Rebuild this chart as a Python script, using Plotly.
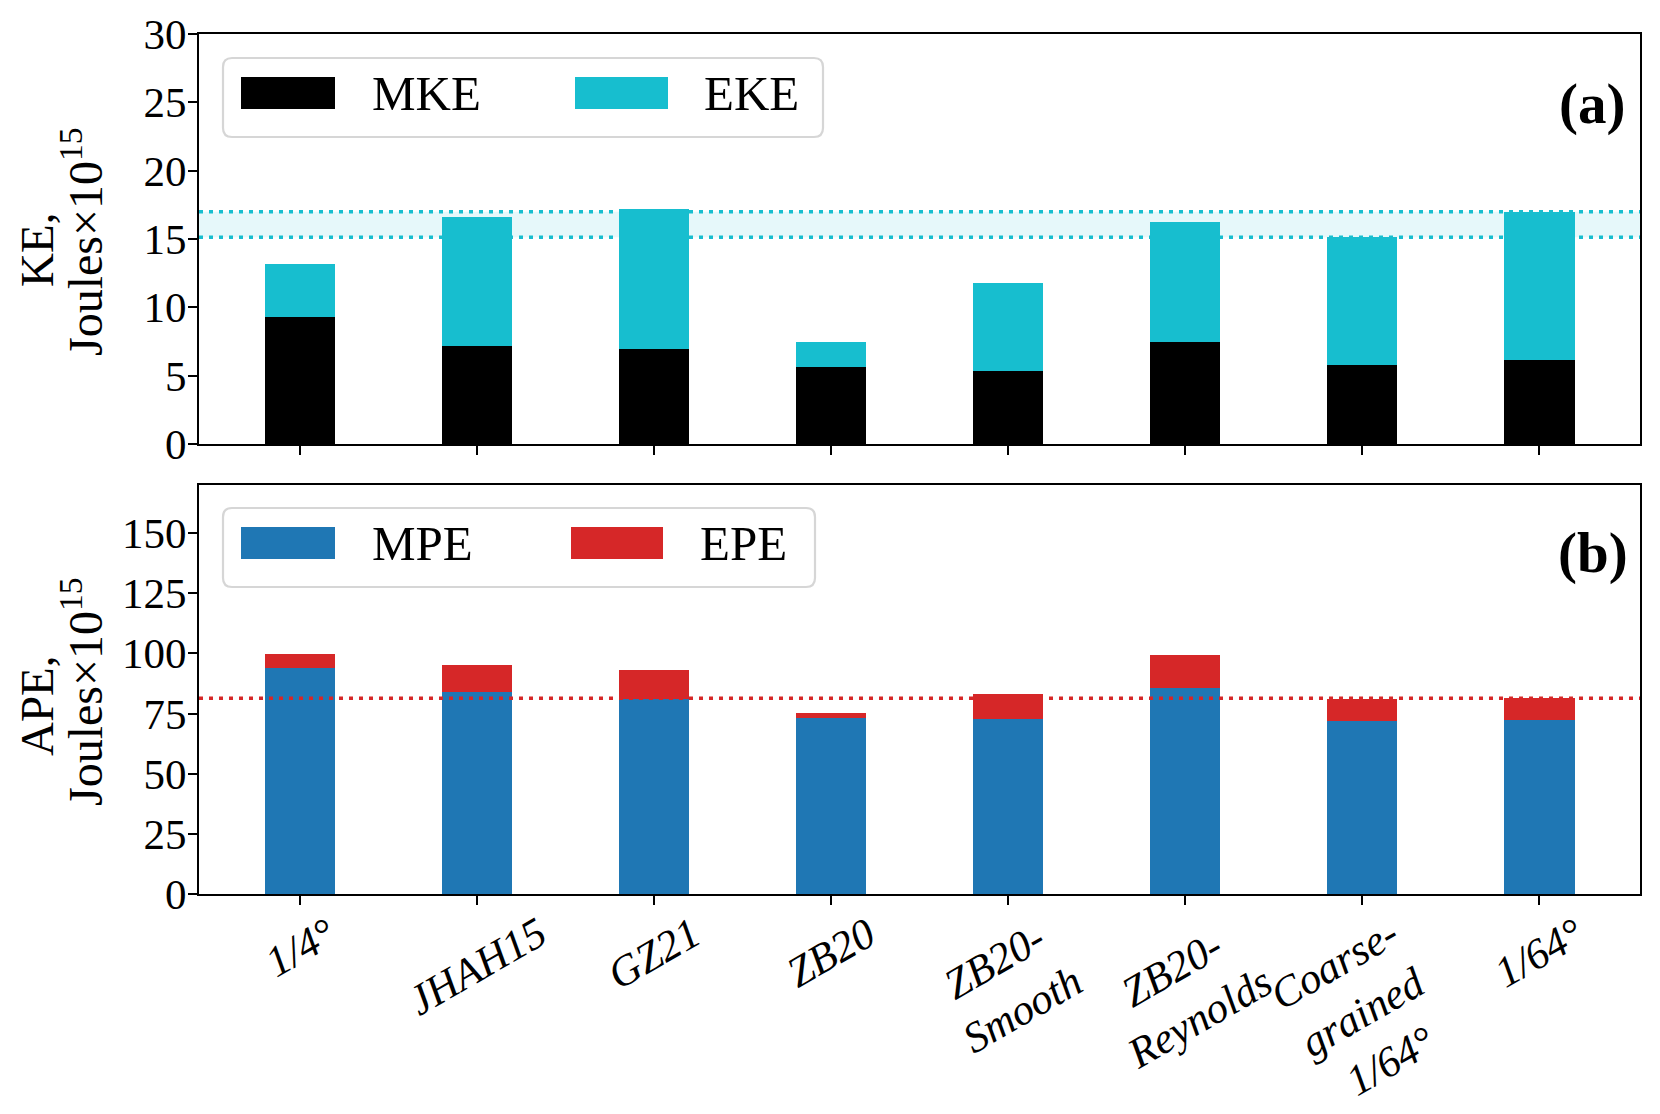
import plotly.graph_objects as go

# ---------------- data ----------------
categories = ["1/4°", "JHAH15", "GZ21", "ZB20", "ZB20-<br>Smooth",
              "ZB20-<br>Reynolds", "Coarse-<br>grained<br>1/64°", "1/64°"]
mke = [9.31, 7.15, 6.95, 5.66, 5.36, 7.46, 5.78, 6.12]
eke = [3.84, 9.45, 10.22, 1.78, 6.44, 8.80, 9.34, 10.88]
mpe = [94.1, 83.85, 80.94, 73.06, 72.77, 85.64, 72.07, 72.2]
epe = [5.65, 11.2, 12.03, 2.07, 10.5, 13.69, 8.87, 9.16]
ke_ticks = [0, 5, 10, 15, 20, 25, 30]
ape_ticks = [0, 25, 50, 75, 100, 125, 150]

ke_total = [a + b for a, b in zip(mke, eke)]
ape_total = [a + b for a, b in zip(mpe, epe)]

# ---------------- layout helpers ----------------
W, H = 1660, 1114
L, T, B = 199, 34, 220
R = 20
pw, ph = W - L - R, H - T - B


def px(xp):
    return (xp - L) / pw


def py(yp):
    return (H - B - yp) / ph


FONT = "Liberation Serif"
CYAN = "#17becf"
BLUE = "#1f77b4"
RED = "#d62728"

x = list(range(len(categories)))

fig = go.Figure()
fig.add_trace(go.Bar(x=x, y=mke, width=0.4, marker=dict(color="black", line=dict(width=0)),
                     xaxis="x", yaxis="y", name="MKE", showlegend=False))
fig.add_trace(go.Bar(x=x, y=eke, width=0.4, marker=dict(color=CYAN, line=dict(width=0)),
                     xaxis="x", yaxis="y", name="EKE", showlegend=False))
fig.add_trace(go.Bar(x=x, y=mpe, width=0.4, marker=dict(color=BLUE, line=dict(width=0)),
                     xaxis="x2", yaxis="y2", name="MPE", showlegend=False))
fig.add_trace(go.Bar(x=x, y=epe, width=0.4, marker=dict(color=RED, line=dict(width=0)),
                     xaxis="x2", yaxis="y2", name="EPE", showlegend=False))

axis_common = dict(showline=True, mirror=True, linecolor="black", linewidth=2,
                   ticks="outside", ticklen=9, tickwidth=1.5, tickcolor="black",
                   showgrid=False, zeroline=False,
                   tickfont=dict(family=FONT, size=43, color="black"))

fig.update_layout(
    width=W, height=H,
    margin=dict(l=L, r=R, t=T, b=B),
    paper_bgcolor="white", plot_bgcolor="white",
    barmode="stack", bargap=0,
    xaxis=dict(domain=[0, 1], anchor="y", range=[-0.57, 7.57], tickvals=x,
               showticklabels=False, **axis_common),
    xaxis2=dict(domain=[0, 1], anchor="y2", range=[-0.57, 7.57], tickvals=x,
                showticklabels=False, matches="x", **axis_common),
    yaxis=dict(domain=[py(444), 1], anchor="x", range=[0, 30], tickvals=ke_ticks,
               ticklabelstandoff=-7, **axis_common),
    yaxis2=dict(domain=[0, py(485)], anchor="x2", range=[0, 170], tickvals=ape_ticks,
                ticklabelstandoff=-7, **axis_common),
)

dotted = "4px,6px"
shapes = [
    dict(type="rect", xref="x domain", yref="y", x0=0, x1=1,
         y0=ke_total[6], y1=ke_total[7], fillcolor="rgba(23,190,207,0.11)",
         line=dict(width=0), layer="below"),
    dict(type="line", xref="x domain", yref="y", x0=0, x1=1,
         y0=ke_total[7], y1=ke_total[7], line=dict(color=CYAN, width=3.5, dash=dotted),
         layer="below"),
    dict(type="line", xref="x domain", yref="y", x0=0, x1=1,
         y0=ke_total[6], y1=ke_total[6], line=dict(color=CYAN, width=3.5, dash=dotted),
         layer="below"),
    dict(type="line", xref="x2 domain", yref="y2", x0=0, x1=1,
         y0=ape_total[7], y1=ape_total[7], line=dict(color=RED, width=3.5, dash=dotted),
         layer="above"),
]


def rounded_box(x0, y0, x1, y1, r=9):
    X0, X1 = px(x0), px(x1)
    Y0, Y1 = py(y0), py(y1)
    rx, ry = r / pw, r / ph
    return (f"M{X0+rx},{Y0} L{X1-rx},{Y0} Q{X1},{Y0} {X1},{Y0-ry} "
            f"L{X1},{Y1+ry} Q{X1},{Y1} {X1-rx},{Y1} L{X0+rx},{Y1} "
            f"Q{X0},{Y1} {X0},{Y1+ry} L{X0},{Y0-ry} Q{X0},{Y0} {X0+rx},{Y0} Z")


annotations = []
legend_specs = [
    ((223, 58, 823, 137), 93, [(241, 335, "black", "MKE", 370), (575, 668, CYAN, "EKE", 702)]),
    ((223, 508, 815, 587), 543, [(241, 335, BLUE, "MPE", 370), (571, 663, RED, "EPE", 698)]),
]
for (bx0, by0, bx1, by1), cy, items in legend_specs:
    shapes.append(dict(type="path", xref="paper", yref="paper",
                       path=rounded_box(bx0, by0, bx1, by1),
                       fillcolor="rgba(255,255,255,0.8)",
                       line=dict(color="#d6d6d6", width=2.2), layer="above"))
    for p0, p1, col, lab, tx in items:
        shapes.append(dict(type="rect", xref="paper", yref="paper",
                           x0=px(p0), x1=px(p1), y0=py(cy + 16), y1=py(cy - 16),
                           fillcolor=col, line=dict(width=0), layer="above"))
        annotations.append(dict(xref="paper", yref="paper", x=px(tx), y=py(cy),
                                xanchor="left", yanchor="middle", text=lab, showarrow=False,
                                font=dict(family=FONT, size=49, color="black")))

# panel tags
annotations.append(dict(xref="paper", yref="paper", x=px(1627), y=py(104), xanchor="right",
                        yanchor="middle", text="<b>(a)</b>", showarrow=False,
                        font=dict(family=FONT, size=57, color="black")))
annotations.append(dict(xref="paper", yref="paper", x=px(1630), y=py(553), xanchor="right",
                        yanchor="middle", text="<b>(b)</b>", showarrow=False,
                        font=dict(family=FONT, size=57, color="black")))

# y-axis titles (two lines, each its own rotated text for tighter spacing)
ytitles = [("KE,", 250, 242), ("APE,", 706, 692)]
for first, yc1, yc2 in ytitles:
    annotations.append(dict(xref="paper", yref="paper", x=px(37), y=py(yc1), xanchor="center",
                            yanchor="middle", textangle=-90, showarrow=False,
                            text=first, font=dict(family=FONT, size=47, color="black")))
    annotations.append(dict(xref="paper", yref="paper", x=px(82), y=py(yc2), xanchor="center",
                            yanchor="middle", textangle=-90, showarrow=False,
                            text="Joules×10<sup>15</sup>",
                            font=dict(family=FONT, size=48, color="black")))

# x tick labels (rotated, centred under each tick like matplotlib)
for xi, lab in zip(x, categories):
    annotations.append(dict(xref="x2", yref="paper", x=xi, y=0, yshift=-12,
                            xanchor="center", yanchor="top", textangle=-30,
                            showarrow=False, align="center", text=f"<i>{lab}</i>",
                            font=dict(family=FONT, size=43, color="black")))

fig.update_layout(shapes=shapes, annotations=annotations)

fig.write_html("out.html", config={"displayModeBar": False},
               post_script="document.body.style.margin='0px';")
